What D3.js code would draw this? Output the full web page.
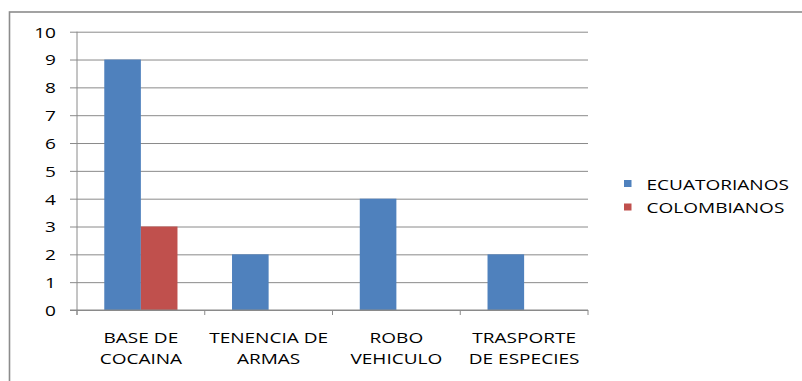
<!DOCTYPE html>
<html>
<head>
<meta charset="utf-8">
<script src="https://cdn.jsdelivr.net/npm/d3@7"></script>
<style>
  html, body { margin: 0; padding: 0; background: #fff; }
  svg { display: block; }
  text { font-family: "Open Sans", sans-serif; font-size: 15px; fill: #000; }
</style>
</head>
<body>
<svg id="chart" width="802" height="381"></svg>
<script>
// Delitos por nacionalidad
const categories = [["BASE DE", "COCAINA"], ["TENENCIA DE", "ARMAS"], ["ROBO", "VEHICULO"], ["TRASPORTE", "DE ESPECIES"]];
const seriesNames = ["ECUATORIANOS", "COLOMBIANOS"];
const ecuatorianos = [9, 2, 4, 2];
const colombianos = [3, 0, 0, 0];
const yTicks = [0, 1, 2, 3, 4, 5, 6, 7, 8, 9, 10];
const colors = ["#4F81BD", "#C0504D"];

const series = [ecuatorianos, colombianos];
const stretch = 1.27;   // wide lettering
const gridColor = "#8a8a8a";

const svg = d3.select("#chart");

// outer chart frame
svg.append("rect")
  .attr("x", 9.5).attr("y", 12)
  .attr("width", 820).attr("height", 400)
  .attr("fill", "#fff")
  .attr("stroke", "#8c8c8c").attr("stroke-width", 1.6);

const plot = { left: 77, right: 588, top: 31.7, bottom: 310 };

const x = d3.scaleBand()
  .domain(d3.range(categories.length))
  .range([plot.left, plot.right])
  .paddingInner(0).paddingOuter(0);

const xInner = d3.scaleBand()
  .domain(d3.range(series.length))
  .range([0, x.bandwidth()])
  .paddingOuter(0.745).paddingInner(0);

const y = d3.scaleLinear().domain([0, 10]).range([plot.bottom, plot.top]);

// horizontal gridlines with ticks + labels
const yAxis = svg.append("g")
  .attr("transform", `translate(${plot.left},0)`)
  .call(d3.axisLeft(y).tickValues(yTicks).tickSize(-(plot.right - plot.left)).tickSizeOuter(0).tickFormat(d3.format("d")));
yAxis.select(".domain").remove();
yAxis.selectAll(".tick line")
  .attr("x1", -7)
  .attr("stroke", gridColor).attr("stroke-width", 1);
yAxis.selectAll(".tick text")
  .attr("x", null).attr("dy", "0.36em")
  .attr("transform", `translate(-21,0) scale(${stretch},1)`)
  .style("font-family", "'Open Sans', sans-serif").style("font-size", "15px")
  .attr("fill", "#000");

// bars
series.forEach((vals, si) => {
  svg.append("g").selectAll("rect")
    .data(vals)
    .join("rect")
    .attr("x", (d, i) => x(i) + xInner(si))
    .attr("width", xInner.bandwidth())
    .attr("y", d => y(d))
    .attr("height", d => y(0) - y(d))
    .attr("fill", colors[si]);
});

// value axis line
svg.append("line")
  .attr("x1", plot.left).attr("x2", plot.left)
  .attr("y1", plot.top).attr("y2", plot.bottom + 5)
  .attr("stroke", gridColor);

// category axis
const xAxis = svg.append("g")
  .attr("transform", `translate(0,${plot.bottom})`);
xAxis.append("line")
  .attr("x1", plot.left - 7).attr("x2", plot.right)
  .attr("stroke", gridColor);
const boundaries = d3.range(categories.length + 1).map(i => i < categories.length ? x(i) : x(i - 1) + x.bandwidth());
xAxis.selectAll("line.tick")
  .data(boundaries)
  .join("line")
  .attr("class", "tick")
  .attr("x1", d => d).attr("x2", d => d)
  .attr("y1", 0).attr("y2", 5)
  .attr("stroke", gridColor);

const catLabels = svg.append("g").selectAll("g")
  .data(categories)
  .join("g")
  .attr("transform", (d, i) => `translate(${x(i) + x.bandwidth() / 2},0)`);
catLabels.each(function (lines) {
  d3.select(this).selectAll("text")
    .data(lines)
    .join("text")
    .attr("text-anchor", "middle")
    .attr("transform", (l, j) => `translate(0,${342.5 + j * 21}) scale(${stretch},1)`)
    .text(l => l);
});

// legend
const legend = svg.append("g").attr("transform", "translate(624,0)");
seriesNames.forEach((name, i) => {
  const row = legend.append("g").attr("transform", `translate(0,${183.5 + i * 23.5})`);
  row.append("rect")
    .attr("x", 0).attr("y", -3.5)
    .attr("width", 7.5).attr("height", 7)
    .attr("fill", colors[i]);
  row.append("text")
    .attr("transform", `translate(22.5,6) scale(${stretch},1)`)
    .text(name);
});
</script>
</body>
</html>
